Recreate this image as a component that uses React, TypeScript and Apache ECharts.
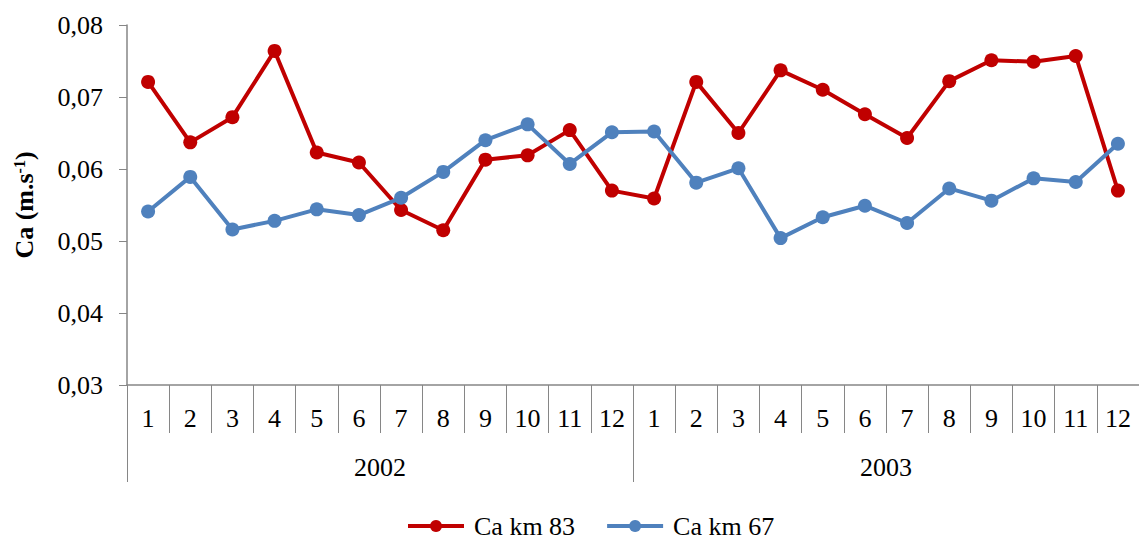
import React, { useEffect, useRef } from "react";
import * as echarts from "echarts";

const months = ["1","2","3","4","5","6","7","8","9","10","11","12","1","2","3","4","5","6","7","8","9","10","11","12"];
const years = ["2002", "2003"];
const km83 = [0.0721,0.0637,0.0672,0.0764,0.0623,0.0609,0.0543,0.0515,0.0613,0.0619,0.0654,0.0570,
              0.0559,0.0721,0.0650,0.0737,0.0710,0.0676,0.0643,0.0722,0.0751,0.0749,0.0757,0.0570];
const km67 = [0.0541,0.0589,0.0516,0.0528,0.0544,0.0536,0.0560,0.0596,0.0640,0.0662,0.0607,0.0651,
              0.0652,0.0581,0.0601,0.0504,0.0533,0.0549,0.0525,0.0573,0.0556,0.0587,0.0582,0.0635];
const yTicks = { min: 0.03, max: 0.08, interval: 0.01 };

const FONT = "Liberation Serif";
const GRAY = "#868686";
const FS = 26;
const serif = { fontFamily: FONT, fontSize: FS, color: "#000" };

export default function App() {
  const ref = useRef<HTMLDivElement>(null);
  useEffect(() => {
    if (!ref.current) return;
    const chart = echarts.init(ref.current, null, { renderer: "svg" });
    chart.setOption({
      animation: false,
      backgroundColor: "#fff",
      grid: { left: 127, top: 25, bottom: 154, right: -10, containLabel: false },
      legend: {
        top: 513,
        left: 406,
        padding: 0,
        itemWidth: 56,
        itemHeight: 15,
        itemGap: 30,
        lineStyle: { width: 4 },
        formatter: (n: string) => `{t|${n}}`,
        textStyle: { ...serif, lineHeight: 26, rich: { t: { ...serif, lineHeight: 26, padding: [0, 0, 0, 5] } } },
        data: ["Ca km 83", "Ca km 67"],
      },
      xAxis: [
        {
          type: "category",
          data: months,
          position: "bottom",
          axisLine: { show: true, lineStyle: { color: GRAY, width: 1.5 } },
          axisTick: { show: true, length: 48, lineStyle: { color: GRAY, width: 1 } },
          axisLabel: { margin: 20, ...serif, interval: 0 },
          splitLine: { show: false },
        },
        {
          type: "category",
          data: years,
          position: "bottom",
          axisLine: { show: false },
          axisTick: { show: true, length: 97, lineStyle: { color: GRAY, width: 1 } },
          axisLabel: { margin: 69, ...serif, interval: 0 },
          splitLine: { show: false },
        },
      ],
      yAxis: {
        type: "value",
        min: yTicks.min,
        max: yTicks.max,
        interval: yTicks.interval,
        axisLine: { show: true, lineStyle: { color: GRAY, width: 1.5 } },
        axisTick: { show: true, length: 8, lineStyle: { color: GRAY } },
        splitLine: { show: false },
        axisLabel: {
          margin: 24,
          ...serif,
          formatter: (v: number) => v.toFixed(2).replace(".", ","),
        },
        name: "{b|Ca (m.s}{s|-1}{b|)}",
        nameLocation: "middle",
        nameGap: 90,
        nameRotate: 90,
        nameTextStyle: {
          fontFamily: FONT,
          rich: {
            b: { fontFamily: FONT, fontSize: FS, fontWeight: "bold", color: "#000" },
            s: { fontFamily: FONT, fontSize: 16, fontWeight: "bold", color: "#000", verticalAlign: "top", padding: [0, 0, 10, 0] },
          },
        },
      },
      series: [
        {
          name: "Ca km 83",
          type: "line",
          data: km83,
          xAxisIndex: 0,
          symbol: "circle",
          symbolSize: 14,
          lineStyle: { width: 4, color: "#C00000" },
          itemStyle: { color: "#C00000" },
        },
        {
          name: "Ca km 67",
          type: "line",
          data: km67,
          xAxisIndex: 0,
          symbol: "circle",
          symbolSize: 14,
          lineStyle: { width: 4, color: "#4F81BD" },
          itemStyle: { color: "#4F81BD" },
        },
      ],
    });
    return () => chart.dispose();
  }, []);
  return <div ref={ref} style={{ width: 1139, height: 539, position: "absolute", left: 0, top: 0 }} />;
}
